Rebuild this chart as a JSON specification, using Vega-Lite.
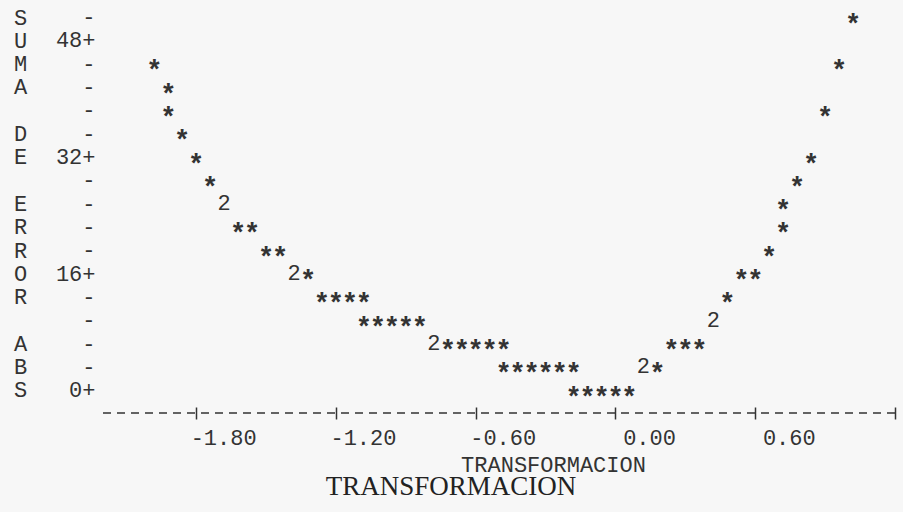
{
  "$schema": "https://vega.github.io/schema/vega-lite/v6.json",
  "width": 792,
  "height": 408,
  "autosize": {"type": "none"},
  "padding": {"left": 103, "top": 5, "right": 8, "bottom": 99},
  "background": "#f7f7f7",
  "config": {
    "view": {"stroke": null},
    "axis": {"grid": false, "labelOverlap": false, "labelFlush": false}
  },
  "title": {
    "text": "TRANSFORMACION",
    "orient": "bottom",
    "anchor": "middle",
    "font": "Liberation Serif",
    "fontSize": 27,
    "fontWeight": "normal",
    "color": "#222222",
    "dx": -48,
    "offset": -1
  },
  "data": {
    "values": [
      {"lambda": -2.00, "transformacion": -1.98, "error": 44.8},
      {"lambda": -1.95, "transformacion": -1.92, "error": 41.6},
      {"lambda": -1.90, "transformacion": -1.92, "error": 38.4},
      {"lambda": -1.85, "transformacion": -1.86, "error": 35.2},
      {"lambda": -1.80, "transformacion": -1.80, "error": 32},
      {"lambda": -1.75, "transformacion": -1.74, "error": 28.8},
      {"lambda": -1.70, "transformacion": -1.68, "error": 25.6},
      {"lambda": -1.65, "transformacion": -1.68, "error": 25.6},
      {"lambda": -1.60, "transformacion": -1.62, "error": 22.4},
      {"lambda": -1.55, "transformacion": -1.56, "error": 22.4},
      {"lambda": -1.50, "transformacion": -1.50, "error": 19.2},
      {"lambda": -1.45, "transformacion": -1.44, "error": 19.2},
      {"lambda": -1.40, "transformacion": -1.38, "error": 16},
      {"lambda": -1.35, "transformacion": -1.38, "error": 16},
      {"lambda": -1.30, "transformacion": -1.32, "error": 16},
      {"lambda": -1.25, "transformacion": -1.26, "error": 12.8},
      {"lambda": -1.20, "transformacion": -1.20, "error": 12.8},
      {"lambda": -1.15, "transformacion": -1.14, "error": 12.8},
      {"lambda": -1.10, "transformacion": -1.08, "error": 12.8},
      {"lambda": -1.05, "transformacion": -1.08, "error": 9.6},
      {"lambda": -1.00, "transformacion": -1.02, "error": 9.6},
      {"lambda": -0.95, "transformacion": -0.96, "error": 9.6},
      {"lambda": -0.90, "transformacion": -0.90, "error": 9.6},
      {"lambda": -0.85, "transformacion": -0.84, "error": 9.6},
      {"lambda": -0.80, "transformacion": -0.78, "error": 6.4},
      {"lambda": -0.75, "transformacion": -0.78, "error": 6.4},
      {"lambda": -0.70, "transformacion": -0.72, "error": 6.4},
      {"lambda": -0.65, "transformacion": -0.66, "error": 6.4},
      {"lambda": -0.60, "transformacion": -0.60, "error": 6.4},
      {"lambda": -0.55, "transformacion": -0.54, "error": 6.4},
      {"lambda": -0.50, "transformacion": -0.48, "error": 6.4},
      {"lambda": -0.45, "transformacion": -0.48, "error": 3.2},
      {"lambda": -0.40, "transformacion": -0.42, "error": 3.2},
      {"lambda": -0.35, "transformacion": -0.36, "error": 3.2},
      {"lambda": -0.30, "transformacion": -0.30, "error": 3.2},
      {"lambda": -0.25, "transformacion": -0.24, "error": 3.2},
      {"lambda": -0.20, "transformacion": -0.18, "error": 3.2},
      {"lambda": -0.15, "transformacion": -0.18, "error": 0},
      {"lambda": -0.10, "transformacion": -0.12, "error": 0},
      {"lambda": -0.05, "transformacion": -0.06, "error": 0},
      {"lambda": 0.00, "transformacion": 0.00, "error": 0},
      {"lambda": 0.05, "transformacion": 0.06, "error": 0},
      {"lambda": 0.10, "transformacion": 0.12, "error": 3.2},
      {"lambda": 0.15, "transformacion": 0.12, "error": 3.2},
      {"lambda": 0.20, "transformacion": 0.18, "error": 3.2},
      {"lambda": 0.25, "transformacion": 0.24, "error": 6.4},
      {"lambda": 0.30, "transformacion": 0.30, "error": 6.4},
      {"lambda": 0.35, "transformacion": 0.36, "error": 6.4},
      {"lambda": 0.40, "transformacion": 0.42, "error": 9.6},
      {"lambda": 0.45, "transformacion": 0.42, "error": 9.6},
      {"lambda": 0.50, "transformacion": 0.48, "error": 12.8},
      {"lambda": 0.55, "transformacion": 0.54, "error": 16},
      {"lambda": 0.60, "transformacion": 0.60, "error": 16},
      {"lambda": 0.65, "transformacion": 0.66, "error": 19.2},
      {"lambda": 0.70, "transformacion": 0.72, "error": 22.4},
      {"lambda": 0.75, "transformacion": 0.72, "error": 25.6},
      {"lambda": 0.80, "transformacion": 0.78, "error": 28.8},
      {"lambda": 0.85, "transformacion": 0.84, "error": 32},
      {"lambda": 0.90, "transformacion": 0.90, "error": 38.4},
      {"lambda": 0.95, "transformacion": 0.96, "error": 44.8},
      {"lambda": 1.00, "transformacion": 1.02, "error": 51.2}
    ]
  },
  "layer": [
    {
      "transform": [
        {"aggregate": [{"op": "count", "as": "n"}], "groupby": ["transformacion", "error"]},
        {"filter": "datum.n == 1"}
      ],
      "mark": {"type": "text", "text": "*", "font": "Liberation Mono", "fontSize": 27, "fontWeight": "bold", "color": "#333333", "align": "center", "baseline": "middle", "dy": 8},
      "encoding": {
        "x": {
          "field": "transformacion", "type": "quantitative",
          "scale": {"domain": [-2.2, 1.2], "nice": false, "zero": false},
          "axis": {
            "values": [-1.8, -1.2, -0.6, 0, 0.6, 1.2], "tickCount": 30,
            "domain": false, "ticks": true, "tickSize": 12, "tickWidth": 1.5, "tickColor": "#333333", "offset": -6,
            "labelFont": "Liberation Mono", "labelFontSize": 22, "labelColor": "#333333",
            "labelAlign": "right", "labelOffset": 60, "labelPadding": 8, "labelBaseline": "top",
            "labelFlush": false, "labelOverlap": false,
            "labelExpr": "datum.value > 1 ? '' : (datum.value < 0 ? '-' + format(-datum.value, '.2f') : format(datum.value, '.2f'))",
            "title": "TRANSFORMACION", "titleFont": "Liberation Mono", "titleFontSize": 22, "titleFontWeight": "normal", "titleColor": "#333333",
            "titleX": 450, "titleY": 57, "titleAlign": "center", "titleBaseline": "middle"
          }
        },
        "y": {
          "field": "error", "type": "quantitative",
          "scale": {"domain": [-3.2, 52.8], "nice": false, "zero": false},
          "axis": {
            "values": [0, 3.2, 6.4, 9.6, 12.8, 16, 19.2, 22.4, 25.6, 28.8, 32, 35.2, 38.4, 41.6, 44.8, 48, 51.2], "tickCount": 40,
            "domain": false, "ticks": false,
            "labelFont": "Liberation Mono", "labelFontSize": 22, "labelColor": "#333333",
            "labelPadding": 8, "labelAlign": "right", "labelBaseline": "middle", "labelOverlap": false, "labelFlush": false,
            "labelExpr": "round(datum.value / 3.2) % 5 == 0 ? round(datum.value) + '+' : '-'",
            "title": ["S", "U", "M", "A", "\u200b", "D", "E", "\u200b", "E", "R", "R", "O", "R", "\u200b", "A", "B", "S"],
            "titleAngle": 0, "titleX": -83, "titleY": 12, "titleAlign": "center", "titleBaseline": "middle",
            "titleLineHeight": 23.31, "titleFont": "Liberation Mono", "titleFontSize": 22, "titleFontWeight": "normal", "titleColor": "#333333"
          }
        }
      }
    },
    {
      "transform": [
        {"aggregate": [{"op": "count", "as": "n"}], "groupby": ["transformacion", "error"]},
        {"filter": "datum.n > 1"}
      ],
      "mark": {"type": "text", "font": "Liberation Mono", "fontSize": 22, "color": "#333333", "align": "center", "baseline": "middle"},
      "encoding": {
        "x": {"field": "transformacion", "type": "quantitative", "scale": {"domain": [-2.2, 1.2], "nice": false, "zero": false}},
        "y": {"field": "error", "type": "quantitative", "scale": {"domain": [-3.2, 52.8], "nice": false, "zero": false}},
        "text": {"field": "n", "type": "quantitative"}
      }
    },
    {
      "data": {"values": [{}]},
      "mark": {"type": "rule", "color": "#333333", "strokeDash": [8, 6], "strokeWidth": 1.5},
      "encoding": {
        "y": {
          "datum": -3.2, "type": "quantitative",
          "scale": {"domain": [-3.2, 52.8], "nice": false, "zero": false}
        }
      }
    }
  ]
}
